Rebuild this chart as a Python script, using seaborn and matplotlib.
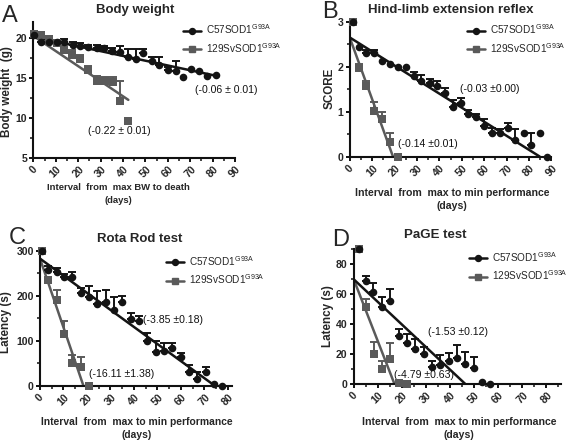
import numpy as np
import pandas as pd
import matplotlib
matplotlib.use("Agg")
import matplotlib.pyplot as plt
import seaborn as sns
from matplotlib.lines import Line2D
from matplotlib.ticker import MultipleLocator

# ---------------- data ----------------
# Panel A: Body weight
a_c57_days = [0.4, 3.6, 7.1, 10.4, 13.8, 17.6, 20.8, 24.6, 28.3, 31.7, 35.3, 38.7, 42.1, 45.8,
              49.1, 52.8, 56.3, 60.0, 63.5, 66.8, 70.2, 73.8, 77.4, 81.5]
a_c57_vals = [20.4, 19.6, 19.5, 19.5, 19.6, 19.2, 19.1, 18.9, 18.8, 18.8, 18.4, 18.3, 17.7, 17.4,
              18.2, 17.1, 16.6, 16.0, 15.9, 15.2, 16.2, 15.9, 15.3, 15.4]
a_c57_err = [0.3, 0.5, 0.3, 0.3, 0.3, 0.3, 0.3, 0.3, 0.4, 0.3, 0.4, 0.7, 1.0, 1.3,
             0.5, 0.6, 1.0, 0.4, 1.2, 0.0, 0.0, 0.0, 0.0, 0.0]
a_129_days = [0.4, 3.6, 7.1, 10.4, 13.8, 17.1, 20.8, 24.6, 28.3, 32.0, 35.7, 38.7, 42.1]
a_129_vals = [20.6, 20.4, 19.9, 19.4, 18.6, 17.9, 17.4, 16.0, 14.7, 14.7, 14.5, 12.1, 9.6]
a_129_err = [0.3, 0.4, 0.4, 0.3, 0.5, 0.6, 0.5, 0.5, 0.6, 0.5, 0.7, 2.5, 0.0]
a_fit = {"C57": (20.2, -0.060, 82.6), "129": (20.3, -0.189, 42.4)}
a_notes = [("(-0.06 ± 0.01)", 72.2, 13.5), ("(-0.22 ± 0.01)", 24.6, 8.4)]

# Panel B: Hind-limb extension reflex
b_c57_days = [1.5, 4.2, 7.4, 11.0, 14.6, 18.0, 21.6, 25.0, 28.6, 32.0, 35.7, 39.0, 42.7, 46.0,
              49.5, 53.0, 56.5, 60.0, 63.5, 67.0, 70.7, 74.0, 77.7, 81.0, 84.8, 88.2]
b_c57_vals = [3.0, 2.44, 2.30, 2.30, 2.13, 2.07, 2.0, 2.0, 1.79, 1.68, 1.63, 1.57, 1.41, 1.11,
              1.20, 0.96, 0.89, 0.69, 0.52, 0.52, 0.63, 0.37, 0.52, 0.26, 0.52, 0.0]
b_c57_err = [0.0, 0.0, 0.07, 0.07, 0.0, 0.0, 0.0, 0.0, 0.10, 0.13, 0.09, 0.11, 0.11, 0.15,
             0.11, 0.07, 0.05, 0.14, 0.11, 0.10, 0.11, 0.24, 0.0, 0.26, 0.0, 0.0]
b_129_days = [1.5, 4.2, 7.4, 11.0, 14.6, 18.0, 21.6]
b_129_vals = [3.0, 1.96, 1.57, 1.01, 0.84, 0.33, 0.0]
b_129_err = [0.0, 0.10, 0.12, 0.20, 0.15, 0.20, 0.0]
b_fit = {"C57": (2.65, -0.0312, 84.8), "129": (2.65, -0.137, 19.3)}
b_notes = [("(-0.03 ±0.00)", 49.2, 1.5), ("(-0.14 ±0.01)", 21.5, 0.28)]

# Panel C: Rota Rod test
c_c57_days = [0.7, 3.3, 7.1, 10.4, 13.8, 17.5, 21.0, 24.4, 28.1, 31.7, 35.1, 38.8, 42.3, 45.7,
              49.3, 52.8, 56.4, 59.9, 63.5, 67.0, 70.7, 74.3, 77.7]
c_c57_vals = [300, 258, 254, 243, 243, 207, 198, 183, 187, 168, 187, 148, 143, 100,
              76, 77, 83, 63, 30, 16, 31, 3, 0]
c_c57_err = [0, 8, 9, 5, 11, 10, 24, 29, 26, 30, 12, 15, 12, 17,
             24, 19, 13, 9, 17, 15, 11, 0, 0]
c_129_days = [0.7, 3.3, 7.1, 10.4, 13.8, 17.5, 21.0]
c_129_vals = [300, 235, 191, 115, 50, 42, 0]
c_129_err = [0, 0, 22, 28, 18, 23, 0]
c_fit = {"C57": (283, -3.80, 74.6), "129": (283, -15.3, 18.5)}
c_notes = [("(-3.85 ±0.18)", 44.0, 146), ("(-16.11 ±1.38)", 21.0, 26)]

# Panel D: PaGE test
d_c57_days = [2.2, 5.0, 8.0, 11.8, 15.2, 18.7, 22.1, 25.6, 29.0, 32.5, 36.0, 39.4, 42.9, 46.4,
              49.8, 53.3, 56.7]
d_c57_vals = [90, 68.9, 61.8, 51.3, 55.6, 32.2, 27.3, 23.3, 20.0, 11.8, 12.9, 15.8, 17.3, 13.6,
              11.1, 1.3, 0.2]
d_c57_err = [0, 3, 6, 7, 8, 5, 6, 7, 5, 4, 6.5, 5, 9, 8, 7, 0, 0]
d_129_days = [2.2, 5.0, 8.3, 11.8, 15.2, 18.7, 22.1]
d_129_vals = [90, 51.8, 20.2, 10.0, 16.7, 0.7, 0.0]
d_129_err = [0, 5, 8, 5.5, 11, 0, 0]
d_fit = {"C57": (70, -1.505, 46.5), "129": (70, -4.12, 17.0)}
d_notes = [("(-1.53 ±0.12)", 30.9, 35), ("(-4.79 ±0.63)", 16.7, 6.2)]

strains = ["C57SOD1$^{\\mathregular{G93A}}$", "129SvSOD1$^{\\mathregular{G93A}}$"]

# ---------------- style ----------------
sns.set_style("ticks")
plt.rcParams['font.family'] = ['Liberation Sans', 'DejaVu Sans']
plt.rcParams['font.weight'] = 'bold'

BLACK = "#141414"
GRAY = "#5a5a5a"
W, H = 567, 441
fig = plt.figure(figsize=(W / 100, H / 100), dpi=100)


def rect(x0, x1, ytop, ybot):
    return [x0 / W, 1 - ybot / H, (x1 - x0) / W, (ybot - ytop) / H]


def fx(x):
    return x / W


def fy(y):
    return 1 - y / H


panels = [
    dict(rect=rect(33.3, 235.0, 22.4, 158.0), xlim=(0, 90), ylim=(5, 22), xt=np.arange(0, 91, 10),
         yt=[5, 10, 15, 20], ymin=2.5,
         c57=(a_c57_days, a_c57_vals, a_c57_err), s129=(a_129_days, a_129_vals, a_129_err),
         fit=a_fit, notes=a_notes),
    dict(rect=rect(349.7, 551.3, 21.7, 156.7), xlim=(0, 90), ylim=(0, 3), xt=np.arange(0, 91, 10),
         yt=[0, 1, 2, 3], ymin=0.5,
         c57=(b_c57_days, b_c57_vals, b_c57_err), s129=(b_129_days, b_129_vals, b_129_err),
         fit=b_fit, notes=b_notes),
    dict(rect=rect(40.0, 232.4, 251.0, 385.7), xlim=(0, 82), ylim=(0, 300), xt=np.arange(0, 81, 10),
         yt=[0, 100, 200, 300], ymin=50,
         c57=(c_c57_days, c_c57_vals, c_c57_err), s129=(c_129_days, c_129_vals, c_129_err),
         fit=c_fit, notes=c_notes),
    dict(rect=rect(353.7, 560.7, 249.3, 384.3), xlim=(0, 86), ylim=(0, 90), xt=np.arange(0, 81, 10),
         yt=[0, 20, 40, 60, 80], ymin=10,
         c57=(d_c57_days, d_c57_vals, d_c57_err), s129=(d_129_days, d_129_vals, d_129_err),
         fit=d_fit, notes=d_notes),
]

legend_pos = [(183, 22.5), (467, 22.5), (166, 254), (469, 250)]

for i, p in enumerate(panels):
    ax = fig.add_axes(p["rect"])
    # regression lines
    for key, col in (("129", GRAY), ("C57", BLACK)):
        b0, m, xe = p["fit"][key]
        xs = np.array([0.0, xe])
        sns.lineplot(x=xs, y=b0 + m * xs, color=col, linewidth=1.8, ax=ax, zorder=2)
    # error bars + markers
    for (days, vals, err), col, mk in ((p["s129"], GRAY, "s"), (p["c57"], BLACK, "o")):
        days = np.asarray(days, float)
        vals = np.asarray(vals, float)
        err = np.asarray(err, float)
        msk = err > 0
        ax.errorbar(days[msk], vals[msk], yerr=[np.zeros(msk.sum()), err[msk]], fmt="none",
                    ecolor=col, elinewidth=1.4, capsize=2.8, capthick=1.4, zorder=3, clip_on=False)
        sns.scatterplot(x=days, y=vals, marker=mk, color=col, s=30,
                        linewidth=0, ax=ax, zorder=4, clip_on=False, legend=False)
    for txt, xx, yy in p["notes"]:
        ax.text(xx, yy, txt, fontsize=7.6, fontweight="normal", ha="left", va="center", color="#111111")

    ax.set_xlim(*p["xlim"])
    ax.set_ylim(*p["ylim"])
    ax.set_xticks(p["xt"])
    ax.set_yticks(p["yt"])
    ax.xaxis.set_minor_locator(MultipleLocator(5))
    ax.yaxis.set_minor_locator(MultipleLocator(p["ymin"]))
    ax.set_xlabel("")
    ax.set_ylabel("")
    sns.despine(ax=ax)
    for s in ("left", "bottom"):
        ax.spines[s].set_linewidth(1.5)
        ax.spines[s].set_color("#111111")
    ax.tick_params(which="major", length=3.2, width=1.4, color="#111111", labelsize=7.6, pad=1.2)
    ax.tick_params(which="minor", length=2.0, width=1.1, color="#111111")
    ax.set_xticks(p["xt"])
    ax.set_xticklabels([str(int(v)) for v in p["xt"]], rotation=45, ha="center", fontweight="bold")
    ax.set_yticklabels([f"{v:g}" for v in p["yt"]], fontweight="bold")

    handles = [Line2D([], [], color=BLACK, marker="o", markersize=4.3, linewidth=1.8),
               Line2D([], [], color=GRAY, marker="s", markersize=4.3, linewidth=1.8)]
    lx, ly = legend_pos[i]
    leg = ax.legend(handles, strains, loc="upper left", bbox_to_anchor=(fx(lx), fy(ly)),
                    bbox_transform=fig.transFigure, frameon=False, fontsize=7.2,
                    handlelength=1.8, handletextpad=0.5, labelspacing=0.45, borderpad=0,
                    borderaxespad=0)
    for t in leg.get_texts():
        t.set_fontweight("normal")

# titles
titles = [("Body weight", 135, 13.5), ("Hind-limb extension reflex", 451, 12.7),
          ("Rota Rod test", 140, 241.7), ("PaGE test", 435, 238.3)]
for t, x, y in titles:
    fig.text(fx(x), fy(y), t, ha="center", va="baseline", fontsize=9.5, fontweight="bold")

# panel letters
letters = [("A", 2, 22.5), ("B", 322, 18.5), ("C", 9, 243.5), ("D", 332, 245.5)]
for t, x, y in letters:
    fig.text(fx(x), fy(y), t, ha="left", va="baseline", fontsize=17, fontweight="normal")

# y labels
ylabels = [("Body weight  (g)", 7, 92), ("SCORE", 330, 88), ("Latency (s)", 6.5, 322),
           ("Latency (s)", 327.5, 316)]
for t, x, y in ylabels:
    fig.text(fx(x), fy(y), t, ha="center", va="center", rotation=90, fontsize=8.4, fontweight="bold")

# x labels
xlabels = [("Interval  from  max BW to death", 118, 190, 203, 6.8),
           ("Interval  from  max to min performance", 452, 196, 209, 7.6),
           ("Interval  from  max to min performance", 137, 425, 438, 7.4),
           ("Interval  from  max to min performance", 459, 425, 438, 7.6)]
for t, x, y1, y2, fs in xlabels:
    fig.text(fx(x), fy(y1), t, ha="center", va="baseline", fontsize=fs, fontweight="bold")
    fig.text(fx(x), fy(y2), "(days)", ha="center", va="baseline", fontsize=fs, fontweight="bold")

fig.savefig("out.png", dpi=100)
